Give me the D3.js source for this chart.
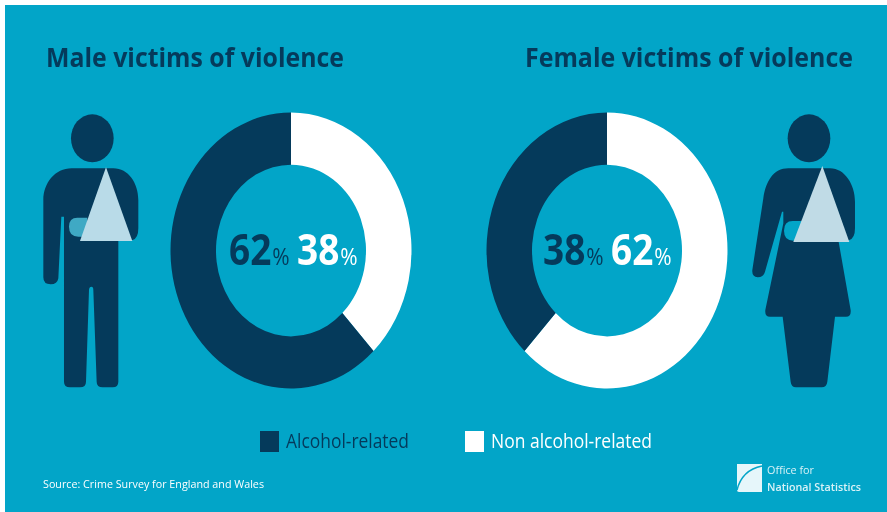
<!DOCTYPE html>
<html><head><meta charset="utf-8">
<script src="https://cdn.jsdelivr.net/npm/d3@7"></script>
<style>html,body{margin:0;background:#fff}svg{display:block;filter:blur(.6px)}text{font-family:"Open Sans",sans-serif}</style>
</head><body><svg id="c" width="887" height="512"></svg>
<script>
const titles=["Male victims of violence","Female victims of violence"];
const categories=["Alcohol-related","Non alcohol-related"];
const maleValues=[62,38];
const femaleValues=[38,62];
const source="Source: Crime Survey for England and Wales";
const logoLines=["Office for","National Statistics"];
const DARK="#053a5b",BG="#02a5c8",WHITE="#ffffff",STRETCH=1.145;
const color=d3.scaleOrdinal().domain(categories).range([DARK,WHITE]);
const svg=d3.select("#c");
svg.append("rect").attr("x",5).attr("y",5).attr("width",882).attr("height",507).attr("fill",BG);
const label=(x,y,size,weight,fill,str,w)=>svg.append("text")
  .attr("transform",`translate(${x},${y}) scale(1,${STRETCH})`)
  .attr("font-size",size).attr("font-weight",weight).attr("fill",fill)
  .attr("textLength",w).attr("lengthAdjust","spacingAndGlyphs").text(str);
label(46,67,24,700,DARK,titles[0],298);
label(525,67,24,700,DARK,titles[1],328);
const arc=d3.arc().innerRadius(75).outerRadius(120.5);
function donut(cx,vals){
  const data=categories.map((c,i)=>({c,v:vals[i]}));
  const seq=[data[1],data[0]];
  const g=svg.append("g").attr("transform",`translate(${cx},250.5) scale(1,${STRETCH})`);
  const arcs=d3.pie().sort(null).value(d=>d.v)(seq);
  g.selectAll("path").data(arcs).join("path").attr("d",arc).attr("fill",d=>color(d.data.c));
}
donut(291,maleValues);
donut(607,femaleValues);
function pct(x,v,fill){
  const t=svg.append("text").attr("transform",`translate(${x},265) scale(1,${STRETCH})`).attr("fill",fill);
  t.append("tspan").attr("font-size",37).attr("font-weight",700).text(v);
  t.append("tspan").attr("font-size",21).attr("font-weight",400).attr("dx",1).text("%");
}
pct(229,maleValues[0],DARK);pct(297,maleValues[1],WHITE);
pct(543,femaleValues[0],DARK);pct(611,femaleValues[1],WHITE);
// pictograms (drawn at 3x, icon shapes only)
const man=svg.append("g").attr("transform","translate(0,90) scale(.3333)");
man.append("ellipse").attr("cx",277).attr("cy",145).attr("rx",64).attr("ry",72).attr("fill",DARK);
man.append("path").attr("fill",DARK).attr("d","M215 235H340C385 235 415 280 415 330V415Q415 445 398 450L355 450V875Q355 892 338 892H308Q290 892 290 875L280 600Q280 590 274 590Q268 590 267 600L258 875Q258 892 240 892H210Q192 892 192 875V380H184L175 565Q172 583 152 583Q130 583 130 562V330C130 280 165 235 215 235Z");
man.append("path").attr("fill","#3fa9c4").attr("d","M262 383H232Q207 383 207 410Q207 440 235 440H262Z");
man.append("path").attr("fill","#b9dbe8").attr("d","M318 232L397 453H240Z");
const wom=svg.append("g").attr("transform","translate(720,90) scale(.3333)");
wom.append("ellipse").attr("cx",267).attr("cy",145).attr("rx",64).attr("ry",72).attr("fill",DARK);
wom.append("path").attr("fill",DARK).attr("d","M205 235H330C375 235 405 285 405 335V415Q405 445 388 450H355L392 660Q394 680 378 680H345L322 875Q320 892 305 892H228Q214 892 212 875L188 680H150Q134 680 136 660L190 400V365H186L135 545Q130 562 113 562Q95 560 97 540L130 325C137 275 160 235 205 235Z");
wom.append("path").attr("fill",BG).attr("d","M245 393H218Q192 393 192 422Q192 452 220 452H240Z");
wom.append("path").attr("fill","#c0dbe6").attr("d","M307 228L388 456H220Z");
// legend
[[260,286,123],[465,491,161]].forEach((p,i)=>{
  svg.append("rect").attr("x",p[0]).attr("y",431).attr("width",19).attr("height",21).attr("fill",color(categories[i]));
  label(p[1],448,18,400,i?WHITE:DARK,categories[i],p[2]);
});
label(43,488,9.5,400,WHITE,source,221);
// logo
svg.append("path").attr("fill","#e6f6fa").attr("d","M737 464H762V492H739Q737 492 737 490Z");
svg.append("path").attr("fill","none").attr("stroke",BG).attr("stroke-width",1.5).attr("d","M737 490Q742 470 762 466");
label(767,474,10,400,"#d9f2f7",logoLines[0],47);
label(767,491,10,600,"#d9f2f7",logoLines[1],94);
</script></body></html>
